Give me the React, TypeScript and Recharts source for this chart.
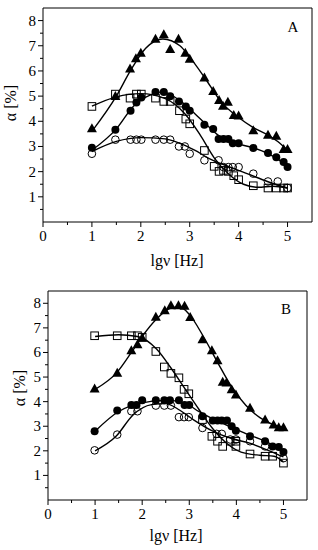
import { ComposedChart, Line, ReferenceArea, Scatter, XAxis, YAxis } from "recharts"

type Pt = [number, number]

// panel A – measured points
const aTriangles: Pt[] = [[1.0, 3.72], [1.48, 5.0], [1.78, 6.1], [1.9, 6.5], [2.0, 6.72], [2.3, 7.28], [2.47, 7.46], [2.6, 6.87], [2.77, 7.28], [2.91, 6.72], [3.0, 6.48], [3.3, 5.74], [3.48, 5.2], [3.6, 4.85], [3.68, 4.62], [3.78, 4.78], [3.9, 4.25], [4.0, 4.23], [4.3, 3.64], [4.6, 3.47], [4.77, 3.43], [4.92, 2.9], [5.0, 2.9]]
const aFilled: Pt[] = [[1.0, 2.95], [1.48, 3.66], [1.79, 4.42], [1.91, 4.75], [2.01, 4.95], [2.3, 5.16], [2.47, 5.16], [2.6, 4.99], [2.78, 4.79], [2.92, 4.59], [3.0, 4.42], [3.3, 3.86], [3.48, 3.69], [3.59, 3.3], [3.69, 3.3], [3.79, 3.3], [3.88, 3.13], [4.0, 3.13], [4.3, 2.94], [4.6, 2.74], [4.77, 2.57], [4.92, 2.38], [5.0, 2.18]]
const aSquares: Pt[] = [[1.0, 4.59], [1.48, 5.08], [1.78, 4.92], [1.91, 5.08], [2.01, 5.08], [2.3, 4.92], [2.47, 4.79], [2.6, 4.79], [2.79, 4.42], [2.92, 4.09], [3.0, 3.9], [3.3, 2.84], [3.5, 2.21], [3.6, 2.01], [3.69, 2.05], [3.79, 2.01], [3.9, 1.84], [4.0, 1.68], [4.3, 1.44], [4.6, 1.35], [4.77, 1.35], [4.92, 1.35], [5.0, 1.35]]
const aOpen: Pt[] = [[1.0, 2.71], [1.48, 3.27], [1.79, 3.27], [1.91, 3.27], [2.01, 3.27], [2.3, 3.27], [2.47, 3.27], [2.6, 3.27], [2.78, 3.0], [2.9, 3.0], [3.0, 2.71], [3.3, 2.45], [3.59, 2.45], [3.69, 2.18], [3.79, 2.18], [3.88, 2.18], [4.0, 2.18], [4.3, 1.92], [4.6, 1.61], [4.8, 1.61], [5.0, 1.35]]

// panel A – fitted curves
const aTriFit: Pt[] = [[1.0, 3.6], [1.5, 5.0], [1.8, 6.05], [2.1, 6.9], [2.45, 7.27], [2.8, 7.0], [3.0, 6.55], [3.3, 5.75], [3.65, 4.75], [4.0, 4.15], [4.3, 3.75], [4.6, 3.45], [4.8, 3.2], [5.0, 2.85]]
const aFilledFit: Pt[] = [[1.0, 2.85], [1.5, 3.7], [1.85, 4.6], [2.2, 5.05], [2.45, 5.17], [2.8, 4.82], [3.05, 4.4], [3.35, 3.85], [3.6, 3.42], [3.9, 3.15], [4.3, 2.95], [4.6, 2.72], [4.8, 2.5], [5.0, 2.2]]
const aSquareFit: Pt[] = [[1.0, 4.6], [1.5, 4.97], [2.0, 5.1], [2.5, 4.9], [2.9, 4.3], [3.2, 3.5], [3.5, 2.55], [3.8, 1.9], [4.1, 1.5], [4.4, 1.38], [4.7, 1.42], [5.0, 1.35]]
const aOpenFit: Pt[] = [[1.0, 2.8], [1.5, 3.2], [2.0, 3.35], [2.5, 3.3], [2.8, 3.12], [3.1, 2.85], [3.4, 2.52], [3.8, 2.2], [4.2, 1.9], [4.6, 1.6], [5.0, 1.35]]

// panel B – measured points
const bTriangles: Pt[] = [[0.99, 4.53], [1.47, 5.18], [1.77, 6.09], [1.9, 6.33], [2.0, 6.6], [2.29, 7.45], [2.48, 7.72], [2.61, 7.92], [2.77, 7.92], [2.9, 7.9], [3.02, 7.44], [3.28, 6.54], [3.48, 6.09], [3.6, 5.68], [3.71, 4.81], [3.79, 4.78], [3.9, 4.5], [3.99, 4.29], [4.29, 3.75], [4.61, 3.27], [4.79, 3.07], [4.9, 2.96], [5.0, 2.96]]
const bFilled: Pt[] = [[0.99, 2.8], [1.47, 3.64], [1.77, 3.86], [1.88, 3.86], [2.0, 4.06], [2.29, 4.06], [2.47, 4.06], [2.59, 4.06], [2.78, 4.06], [2.9, 3.86], [3.0, 3.86], [3.28, 3.41], [3.5, 3.23], [3.6, 3.23], [3.69, 3.23], [3.8, 3.23], [3.9, 3.0], [3.99, 2.82], [4.29, 2.59], [4.61, 2.39], [4.77, 2.18], [4.9, 2.16], [5.0, 1.95]]
const bSquares: Pt[] = [[0.99, 6.68], [1.47, 6.68], [1.77, 6.68], [1.9, 6.68], [2.0, 6.62], [2.29, 6.04], [2.47, 5.41], [2.61, 5.15], [2.78, 4.97], [2.89, 4.5], [2.99, 4.32], [3.28, 3.27], [3.48, 2.59], [3.6, 2.39], [3.71, 2.18], [3.87, 2.39], [3.99, 2.39], [3.99, 2.18], [4.29, 1.87], [4.61, 1.78], [4.77, 1.78], [5.0, 1.5]]
const bOpen: Pt[] = [[0.99, 2.02], [1.47, 2.66], [1.77, 3.61], [1.9, 3.61], [2.29, 3.84], [2.47, 3.84], [2.61, 3.84], [2.78, 3.37], [2.89, 3.37], [2.99, 3.37], [3.28, 2.93], [3.58, 2.69], [3.69, 2.69], [3.87, 2.46], [3.99, 2.46], [4.29, 2.39], [4.61, 2.18], [5.0, 1.7]]

// panel B – fitted curves
const bTriFit: Pt[] = [[1.0, 4.5], [1.47, 5.2], [1.77, 6.0], [2.0, 6.65], [2.3, 7.35], [2.6, 7.8], [2.8, 7.85], [3.0, 7.55], [3.3, 6.65], [3.6, 5.6], [3.9, 4.6], [4.2, 3.85], [4.5, 3.35], [4.8, 3.05], [5.0, 2.95]]
const bFilledFit: Pt[] = [[1.0, 2.8], [1.5, 3.6], [2.0, 3.95], [2.5, 4.05], [2.9, 3.95], [3.2, 3.6], [3.5, 3.3], [3.85, 3.0], [4.2, 2.7], [4.6, 2.4], [4.8, 2.2], [5.0, 1.95]]
const bSquareFit: Pt[] = [[1.0, 6.65], [1.5, 6.72], [1.9, 6.65], [2.3, 6.15], [2.6, 5.4], [2.9, 4.55], [3.2, 3.7], [3.5, 2.9], [3.8, 2.3], [4.1, 1.95], [4.5, 1.82], [4.8, 1.78], [5.0, 1.55]]
const bOpenFit: Pt[] = [[1.0, 2.0], [1.45, 2.6], [1.8, 3.45], [2.2, 3.88], [2.5, 3.92], [2.8, 3.65], [3.1, 3.25], [3.5, 2.8], [3.9, 2.5], [4.3, 2.3], [4.7, 2.0], [5.0, 1.75]]

const xTicks = [0, 0.5, 1, 1.5, 2, 2.5, 3, 3.5, 4, 4.5, 5]
const yTicks = [0.5, 1, 1.5, 2, 2.5, 3, 3.5, 4, 4.5, 5, 5.5, 6, 6.5, 7, 7.5, 8]

const serif = '"Liberation Serif", "Times New Roman", serif'
const toRows = (pts: Pt[]) => pts.map(([x, y]) => ({ x, y }))

const triangle = (p: any) => (
  <path d={`M${p.cx},${p.cy - 5} L${p.cx + 5},${p.cy + 4} L${p.cx - 5},${p.cy + 4} Z`} fill="#000" />
)
const dot = (p: any) => <circle cx={p.cx} cy={p.cy} r={4} fill="#000" />
const ring = (p: any) => <circle cx={p.cx} cy={p.cy} r={3.8} fill="none" stroke="#000" strokeWidth={1} />
const box = (p: any) => <rect x={p.cx - 3.8} y={p.cy - 3.8} width={7.6} height={7.6} fill="none" stroke="#000" strokeWidth={1} />

const XTick = ({ x, y, payload }: any) => {
  const major = Number.isInteger(payload.value)
  return (
    <g>
      <line x1={x} x2={x} y1={y} y2={y + (major ? 5 : 3)} stroke="#000" />
      {major && (
        <text x={x} y={y + 19} textAnchor="middle" fontSize={15} fontFamily={serif} fill="#000">
          {payload.value}
        </text>
      )}
    </g>
  )
}

const YTick = ({ x, y, payload }: any) => {
  const major = Number.isInteger(payload.value)
  return (
    <g>
      <line x1={x} x2={x - (major ? 5 : 3)} y1={y} y2={y} stroke="#000" />
      {major && (
        <text x={x - 7} y={y + 5} textAnchor="end" fontSize={15} fontFamily={serif} fill="#000">
          {payload.value}
        </text>
      )}
    </g>
  )
}

function Panel({ top, right, yw, xh, tri, fil, sq, op, triFit, filFit, sqFit, opFit }: any) {
  return (
    <ComposedChart width={318} height={275} margin={{ top, right, left: 0, bottom: 0 }}>
      <XAxis type="number" dataKey="x" domain={[0, 5.5]} ticks={xTicks} interval={0} tickSize={0} tickMargin={0} tickLine={false} axisLine={false} tick={<XTick />} height={xh} />
      <YAxis type="number" dataKey="y" domain={[0, 8.5]} ticks={yTicks} interval={0} tickSize={0} tickMargin={0} tickLine={false} axisLine={false} tick={<YTick />} width={yw} />
      <ReferenceArea x1={0} x2={5.5} y1={0} y2={8.5} fill="none" stroke="#000" strokeWidth={1} />
      {[triFit, filFit, sqFit, opFit].map((f: Pt[], i: number) => (
        <Line key={i} data={toRows(f)} dataKey="y" type="monotone" stroke="#000" strokeWidth={1.4} dot={false} isAnimationActive={false} />
      ))}
      <Scatter data={toRows(sq)} dataKey="y" shape={box} isAnimationActive={false} />
      <Scatter data={toRows(op)} dataKey="y" shape={ring} isAnimationActive={false} />
      <Scatter data={toRows(fil)} dataKey="y" shape={dot} isAnimationActive={false} />
      <Scatter data={toRows(tri)} dataKey="y" shape={triangle} isAnimationActive={false} />
    </ComposedChart>
  )
}

export default function App() {
  return (
    <div style={{ position: "absolute", left: 0, top: 0, width: 318, height: 550, background: "#fff" }}>
      <Panel top={8} right={6} yw={43} xh={53} tri={aTriangles} fil={aFilled} sq={aSquares} op={aOpen} triFit={aTriFit} filFit={aFilledFit} sqFit={aSquareFit} opFit={aOpenFit} />
      <Panel top={16} right={11} yw={48} xh={50} tri={bTriangles} fil={bFilled} sq={bSquares} op={bOpen} triFit={bTriFit} filFit={bFilledFit} sqFit={bSquareFit} opFit={bOpenFit} />
      <svg width={318} height={550} style={{ position: "absolute", left: 0, top: 0, pointerEvents: "none" }} fontFamily={serif} fill="#000">
        <text x={293} y={32} textAnchor="middle" fontSize={15}>A</text>
        <text x={286} y={314} textAnchor="middle" fontSize={15}>B</text>
        <text transform="translate(16,103) rotate(-90)" textAnchor="middle" fontSize={16}>α [%]</text>
        <text transform="translate(25,388) rotate(-90)" textAnchor="middle" fontSize={16}>α [%]</text>
        <text x={177} y={266} textAnchor="middle" fontSize={16}>lgν [Hz]</text>
        <text x={176} y={541} textAnchor="middle" fontSize={16}>lgν [Hz]</text>
      </svg>
    </div>
  )
}
